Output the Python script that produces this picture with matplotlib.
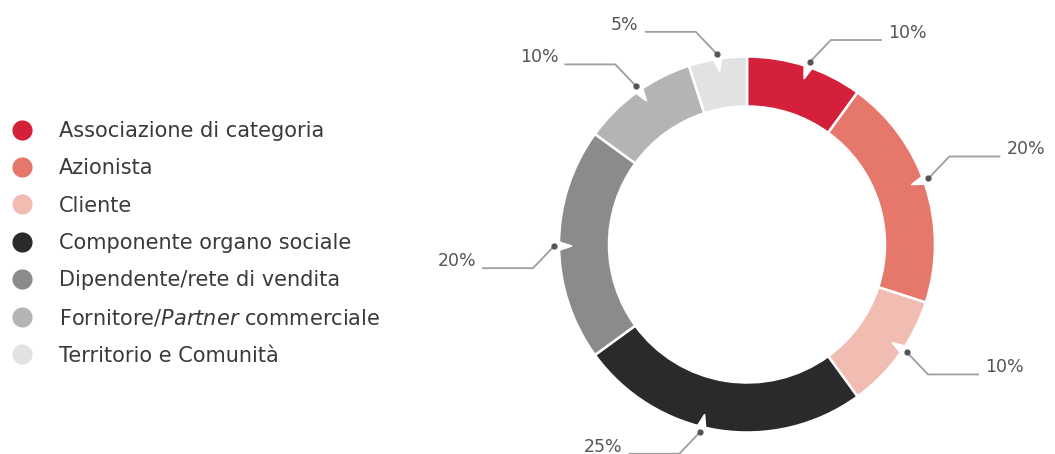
import matplotlib
matplotlib.use('Agg')
import matplotlib.pyplot as plt
from matplotlib.lines import Line2D
import numpy as np

categories = ['Associazione di categoria', 'Azionista', 'Cliente',
              'Componente organo sociale', 'Dipendente/rete di vendita',
              'Fornitore/$\\mathit{Partner}$ commerciale', 'Territorio e Comunità']
shares = [10, 20, 10, 25, 20, 10, 5]
labels = ['10%', '20%', '10%', '25%', '20%', '10%', '5%']
colors = ['#d42039', '#e5776b', '#f1bcb2', '#2a2a2a', '#8b8b8b', '#b4b4b4', '#e2e2e2']

W, H = 1055, 454
fig = plt.figure(figsize=(W / 100, H / 100), dpi=100)
ax = fig.add_axes([0, 0, 1, 1])

# donut geometry in pixel units
cx, cy = 747, H - 244.5
r_out, ring = 188, 50

wedges, _ = ax.pie(shares, colors=colors, startangle=90, counterclock=False,
                   radius=r_out, center=(cx, cy),
                   wedgeprops=dict(width=ring, edgecolor='white', linewidth=1.8))

# small angular nudges so the leader dots sit where the original has them
nudge = [-1, 2, 2, -5, 0.5, -1, 0]

for w, lab, nd in zip(wedges, labels, nudge):
    mid = np.deg2rad((w.theta1 + w.theta2) / 2 + nd)
    c, s = np.cos(mid), np.sin(mid)
    sx = 1 if c > 0.01 else -1
    sy = 1 if s > 0.01 else -1
    # white notch in the ring under the dot
    dth = np.deg2rad(1.4)
    notch = [(cx + (r_out + 1) * np.cos(mid - dth), cy + (r_out + 1) * np.sin(mid - dth)),
             (cx + (r_out + 1) * np.cos(mid + dth), cy + (r_out + 1) * np.sin(mid + dth)),
             (cx + (r_out - 13) * np.cos(mid), cy + (r_out - 13) * np.sin(mid))]
    ax.add_patch(plt.Polygon(notch, closed=True, color='white', zorder=3))
    dx, dy = cx + (r_out + 5) * c, cy + (r_out + 5) * s
    ex, ey = dx + sx * 21, dy + sy * 22
    hx = ex + sx * 50
    ax.plot([dx, ex, hx], [dy, ey, ey], color='#9e9e9e', lw=1.3, zorder=4)
    ax.plot(dx, dy, 'o', color='#555555', ms=3.5, zorder=5)
    ax.text(hx + sx * 7, ey + 7, lab, ha='left' if sx > 0 else 'right', va='center',
            fontsize=12.5, color='#555555')

ax.set_xlim(0, W)
ax.set_ylim(0, H)
ax.set_aspect('equal')
ax.axis('off')

handles = [Line2D([0], [0], marker='o', linestyle='', markersize=14.5,
                  markerfacecolor=col, markeredgecolor='none') for col in colors]
ax.legend(handles, categories, loc='upper left', bbox_to_anchor=(12 / W, 1 - 121 / H),
          bbox_transform=fig.transFigure, frameon=False, fontsize=15,
          handletextpad=1.3, labelspacing=0.83, borderpad=0, borderaxespad=0,
          handlelength=0.95, labelcolor='#3a3a3a')

fig.savefig('out.png', dpi=100)
